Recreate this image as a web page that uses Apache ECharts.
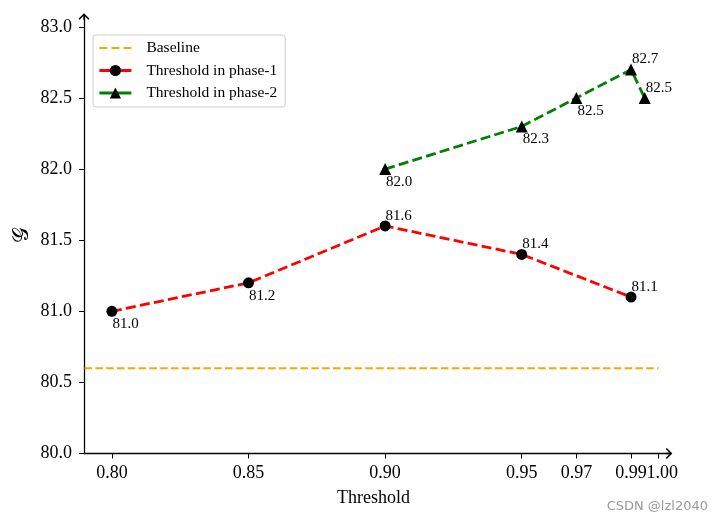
<!DOCTYPE html>
<html>
<head>
<meta charset="utf-8">
<script src="https://cdn.jsdelivr.net/npm/echarts@6/dist/echarts.min.js"></script>
<style>html,body{margin:0;padding:0;background:#fff;}#c{width:722px;height:523px;}</style>
</head>
<body>
<div id="c"></div>
<script>
// ---- data ----
const xTicks = [0.80, 0.85, 0.90, 0.95, 0.97, 0.99, 1.00];
const yTicks = [80.0, 80.5, 81.0, 81.5, 82.0, 82.5, 83.0];
const baselineX = [0.79, 1.00];
const baselineY = [80.6, 80.6];
const phase1X = [0.80, 0.85, 0.90, 0.95, 0.99];
const phase1Y = [81.0, 81.2, 81.6, 81.4, 81.1];
const phase2X = [0.90, 0.95, 0.97, 0.99, 0.995];
const phase2Y = [82.0, 82.3, 82.5, 82.7, 82.5];
const seriesNames = ['Baseline', 'Threshold in phase-1', 'Threshold in phase-2'];
const xName = 'Threshold';
const yName = '\u{1D4A2}';
const watermark = 'CSDN @lzl2040';

// ---- label placement (style) ----
const phase1LabelUp = [false, false, true, true, true];
const phase2LabelUp = [false, false, false, true, true];

const serif = '"Liberation Serif", "Times New Roman", serif';
const chevron = 'path://M0,0 L10,10 L8,12 L1.2,5.2 L1.2,12 L-1.2,12 L-1.2,5.2 L-8,12 L-10,10 Z';
const dashIcon = 'path://M0,0 H8 V2 H0 Z M12,0 H20 V2 H12 Z M24,0 H32 V2 H24 Z';

// ticks split over two overlaid x axes so that touching labels are both drawn
const xTicksMain = xTicks.slice(0, xTicks.length - 1);
const xTicksLast = xTicks.slice(xTicks.length - 1);

function pts(xs, ys, ups) {
  return xs.map((x, i) => {
    const item = { value: [x, ys[i]] };
    if (ups) {
      item.label = { offset: [-5, ups[i] ? -10 : 13] };
    }
    return item;
  });
}

const labelBase = {
  show: true,
  position: 'right',
  distance: 0,
  fontFamily: serif,
  fontSize: 15,
  color: '#000',
  formatter: p => p.value[1].toFixed(1)
};

const X_MIN = 0.78979, X_MAX = 1.0039;
const xLabelStyle = { fontFamily: serif, fontSize: 18, color: '#000', margin: 11, hideOverlap: false, formatter: v => v.toFixed(2) };

const chart = echarts.init(document.getElementById('c'), null, { renderer: 'canvas' });
chart.setOption({
  animation: false,
  backgroundColor: '#ffffff',
  grid: { left: 84, right: 53, top: 16.5, bottom: 69.5, containLabel: false, outerBoundsMode: 'none' },
  legend: {
    orient: 'vertical',
    left: 93,
    top: 35,
    padding: [5, 8, 6, 5],
    itemWidth: 32,
    itemHeight: 14,
    itemGap: 6.5,
    borderColor: '#cccccc',
    borderWidth: 1,
    borderRadius: 3,
    backgroundColor: 'rgba(255,255,255,0.8)',
    lineStyle: { type: 'solid', width: 2.8 },
    data: [
      { name: seriesNames[0], icon: dashIcon, itemStyle: { color: '#ffa500' } },
      { name: seriesNames[1] },
      { name: seriesNames[2] }
    ],
    textStyle: { fontFamily: serif, fontSize: 15.5, color: '#000', lineHeight: 14, padding: [0, 0, 0, 10] }
  },
  xAxis: [
    {
      type: 'value',
      min: X_MIN,
      max: X_MAX,
      name: xName,
      nameLocation: 'middle',
      nameGap: 36,
      nameMoveOverlap: false,
      nameTextStyle: { fontFamily: serif, fontSize: 18, color: '#000', padding: [0, 6, 0, 0] },
      splitLine: { show: false },
      axisLine: { show: true, lineStyle: { color: '#000', width: 1.3 }, symbol: ['none', chevron], symbolSize: [11, 9] },
      axisTick: { show: true, length: 5, lineStyle: { color: '#000', width: 1 }, customValues: xTicks },
      axisLabel: Object.assign({ customValues: xTicksMain }, xLabelStyle)
    },
    {
      type: 'value',
      position: 'bottom',
      min: X_MIN,
      max: X_MAX,
      splitLine: { show: false },
      axisLine: { show: false },
      axisTick: { show: false },
      axisLabel: Object.assign({ customValues: xTicksLast, padding: [0, 0, 0, 8] }, xLabelStyle)
    }
  ],
  yAxis: {
    type: 'value',
    min: 80,
    max: 83.073,
    name: yName,
    nameLocation: 'middle',
    nameGap: 51,
    nameMoveOverlap: false,
    nameRotate: 90,
    nameTextStyle: { fontFamily: '"DejaVu Serif", "DejaVu Sans", serif', fontSize: 22, color: '#000' },
    splitLine: { show: false },
    axisLine: { show: true, lineStyle: { color: '#000', width: 1.3 }, symbol: ['none', chevron], symbolSize: [11, 9] },
    axisTick: { show: true, length: 5, lineStyle: { color: '#000', width: 1 }, customValues: yTicks },
    axisLabel: { fontFamily: serif, fontSize: 18, color: '#000', margin: 12, customValues: yTicks, formatter: v => v.toFixed(1) }
  },
  series: [
    {
      name: seriesNames[0],
      type: 'line',
      xAxisIndex: 0,
      data: pts(baselineX, baselineY),
      showSymbol: false,
      symbol: 'none',
      color: '#ffa500',
      lineStyle: { color: '#ffa500', width: 2, type: [7.5, 3.3] },
      z: 1
    },
    {
      name: seriesNames[1],
      type: 'line',
      xAxisIndex: 0,
      data: pts(phase1X, phase1Y, phase1LabelUp),
      symbol: 'circle',
      symbolSize: 11,
      itemStyle: { color: '#000' },
      lineStyle: { color: '#ff0000', width: 2.8, type: [10, 4.3] },
      label: labelBase,
      z: 3
    },
    {
      name: seriesNames[2],
      type: 'line',
      xAxisIndex: 0,
      data: pts(phase2X, phase2Y, phase2LabelUp),
      symbol: 'triangle',
      symbolSize: 12,
      itemStyle: { color: '#000' },
      lineStyle: { color: '#008000', width: 2.8, type: [10, 4.3] },
      label: labelBase,
      z: 3
    }
  ],
  graphic: [
    {
      type: 'text',
      right: 14,
      top: 500,
      style: { text: watermark, fontFamily: '"DejaVu Sans", sans-serif', fontSize: 13, fill: '#9a9a9a' }
    }
  ]
});
</script>
</body>
</html>
